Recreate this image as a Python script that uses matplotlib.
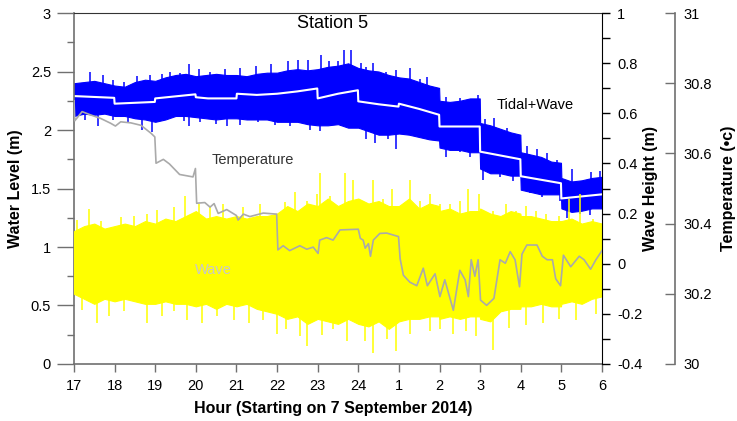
import matplotlib
matplotlib.use("Agg")
import numpy as np
import matplotlib.pyplot as plt
from matplotlib.ticker import MultipleLocator, FormatStrFormatter

plt.rcParams['font.family'] = ['Liberation Sans', 'DejaVu Sans']

# sample grid (hours, 25 = 1 am next day); extra points just before the hourly steps
band_hours = [17.0, 17.25, 17.5, 17.75, 18.0, 18.25, 18.5, 18.75, 19.0, 19.25, 19.5, 19.75,
              20.0, 20.25, 20.5, 20.75, 21.0, 21.25, 21.5, 21.75, 22.0, 22.25, 22.5, 22.75,
              23.0, 23.25, 23.5, 23.75, 24.0, 24.25, 24.5, 24.75, 25.0, 25.25, 25.5, 25.75,
              25.99, 26.0, 26.25, 26.5, 26.75, 26.99, 27.0, 27.25, 27.5, 27.75, 27.99, 28.0,
              28.25, 28.5, 28.75, 28.99, 29.0, 29.25, 29.5, 29.75, 30.0]

# Tidal+Wave envelope (water level, m)
blue_hi = [2.40, 2.41, 2.42, 2.40, 2.38, 2.37, 2.41, 2.43, 2.42, 2.45, 2.47, 2.48,
           2.46, 2.47, 2.48, 2.47, 2.47, 2.46, 2.48, 2.49, 2.49, 2.51, 2.52, 2.51,
           2.52, 2.54, 2.55, 2.57, 2.53, 2.51, 2.50, 2.47, 2.45, 2.44, 2.41, 2.38,
           2.36, 2.25, 2.24, 2.25, 2.27, 2.27, 2.06, 2.04, 2.01, 1.98, 1.96, 1.81,
           1.79, 1.77, 1.73, 1.72, 1.59, 1.56, 1.57, 1.59, 1.60]
blue_lo = [2.12, 2.14, 2.13, 2.14, 2.12, 2.12, 2.10, 2.09, 2.07, 2.09, 2.12, 2.12,
           2.11, 2.10, 2.09, 2.10, 2.10, 2.09, 2.09, 2.09, 2.07, 2.07, 2.07, 2.05,
           2.04, 2.04, 2.05, 2.02, 2.02, 1.99, 1.96, 1.96, 1.97, 1.96, 1.94, 1.92,
           1.91, 1.85, 1.83, 1.83, 1.81, 1.81, 1.67, 1.63, 1.63, 1.61, 1.61, 1.49,
           1.47, 1.45, 1.45, 1.45, 1.33, 1.30, 1.31, 1.33, 1.33]

# hourly mean of Tidal+Wave (white line)
mean_hours = [17.0, 17.99, 18.0, 18.99, 19.0, 19.99, 20.0, 20.3, 21.0, 21.01, 21.5, 22.0,
              22.5, 22.99, 23.0, 23.5, 23.99, 24.0, 24.5, 24.99, 25.0, 25.5, 25.99, 26.0,
              26.99, 27.0, 27.99, 28.0, 28.99, 29.0, 30.0]
mean_level = [2.29, 2.275, 2.225, 2.24, 2.27, 2.305, 2.28, 2.27, 2.27, 2.31, 2.30, 2.31,
              2.33, 2.355, 2.27, 2.31, 2.34, 2.245, 2.22, 2.20, 2.225, 2.18, 2.13, 2.03,
              2.03, 1.815, 1.75, 1.605, 1.545, 1.415, 1.45]

# Wave envelope (wave height, m)
wave_hi = [0.13, 0.15, 0.16, 0.14, 0.15, 0.16, 0.15, 0.17, 0.16, 0.18, 0.17, 0.19,
           0.21, 0.18, 0.19, 0.18, 0.19, 0.18, 0.19, 0.19, 0.20, 0.23, 0.21, 0.24,
           0.23, 0.26, 0.23, 0.25, 0.26, 0.24, 0.25, 0.23, 0.23, 0.26, 0.22, 0.24,
           0.23, 0.21, 0.22, 0.20, 0.21, 0.21, 0.22, 0.20, 0.19, 0.21, 0.20, 0.19,
           0.19, 0.18, 0.17, 0.17, 0.17, 0.18, 0.16, 0.17, 0.16]
wave_lo = [-0.12, -0.14, -0.16, -0.14, -0.15, -0.14, -0.15, -0.16, -0.16, -0.15, -0.16, -0.16,
           -0.17, -0.16, -0.18, -0.16, -0.17, -0.16, -0.18, -0.19, -0.20, -0.22, -0.21, -0.24,
           -0.22, -0.23, -0.24, -0.22, -0.24, -0.25, -0.23, -0.26, -0.23, -0.22, -0.22, -0.21,
           -0.21, -0.22, -0.21, -0.22, -0.21, -0.21, -0.22, -0.23, -0.19, -0.18, -0.18, -0.17,
           -0.17, -0.16, -0.17, -0.17, -0.16, -0.15, -0.16, -0.14, -0.13]

# spikes sticking out of the envelopes
blue_top_hours = [17.39, 17.72, 17.97, 18.22, 18.55, 18.88, 19.17, 19.37, 19.62, 19.82, 20.07, 20.35,
                  20.72, 21.08, 21.49, 21.86, 22.27, 22.52, 22.76, 23.09, 23.29, 23.5, 23.66, 23.82,
                  24.07, 24.2, 24.37, 24.69, 24.94, 25.27, 25.52, 25.68, 25.97, 26.17, 26.5, 26.95,
                  27.12, 27.33, 27.66, 27.9, 28.15, 28.4, 28.65, 28.9, 29.27, 29.72, 29.95]
blue_top_vals = [2.50, 2.47, 2.43, 2.41, 2.46, 2.47, 2.48, 2.50, 2.49, 2.56, 2.52, 2.50,
                 2.52, 2.53, 2.55, 2.56, 2.59, 2.60, 2.60, 2.64, 2.59, 2.59, 2.68, 2.68,
                 2.57, 2.54, 2.57, 2.50, 2.51, 2.53, 2.44, 2.45, 2.36, 2.28, 2.27, 2.30,
                 2.09, 2.10, 2.02, 1.94, 1.86, 1.84, 1.80, 1.74, 1.67, 1.64, 1.65]
blue_bot_hours = [17.27, 17.6, 17.97, 18.34, 18.67, 18.92, 19.37, 19.7, 19.82, 20.1, 20.5, 20.76,
                  21.08, 21.53, 21.94, 22.31, 22.8, 23.05, 23.29, 23.58, 23.99, 24.2, 24.4, 24.73,
                  24.94, 25.14, 25.47, 25.68, 25.93, 26.17, 26.5, 26.74, 27.08, 27.49, 27.82, 28.23,
                  28.52, 28.97, 29.13, 29.45, 29.7]
blue_bot_vals = [2.085, 2.03, 2.085, 2.07, 2.00, 1.98, 2.11, 2.08, 2.03, 2.07, 2.05, 2.03,
                 2.04, 2.07, 2.04, 2.03, 2.00, 1.99, 2.06, 2.03, 2.02, 1.92, 1.89, 1.92,
                 1.84, 1.97, 1.94, 1.96, 1.93, 1.77, 1.81, 1.77, 1.57, 1.60, 1.56, 1.46,
                 1.43, 1.39, 1.25, 1.28, 1.27]
wave_top_hours = [17.08, 17.37, 17.66, 18.15, 18.48, 18.8, 19.05, 19.46, 19.74, 20.07, 20.35, 20.68,
                  21.17, 21.58, 22.2, 22.44, 22.73, 22.98, 23.06, 23.3, 23.67, 23.87, 24.12, 24.37,
                  24.62, 24.82, 25.27, 25.51, 25.76, 26.0, 26.25, 26.5, 26.7, 26.98, 27.31, 27.64,
                  27.89, 28.13, 28.38, 28.62, 28.95, 29.2, 29.45, 29.77]
wave_top_vals = [0.175, 0.22, 0.17, 0.185, 0.19, 0.20, 0.215, 0.225, 0.27, 0.24, 0.225, 0.24,
                 0.225, 0.24, 0.247, 0.287, 0.25, 0.28, 0.36, 0.27, 0.36, 0.333, 0.25, 0.333,
                 0.26, 0.30, 0.333, 0.25, 0.28, 0.24, 0.24, 0.25, 0.30, 0.28, 0.21, 0.24,
                 0.21, 0.23, 0.21, 0.20, 0.19, 0.26, 0.28, 0.18]
wave_bot_hours = [17.2, 17.57, 17.86, 18.23, 18.8, 19.17, 19.46, 19.78, 20.15, 20.52, 20.93, 21.3,
                  21.66, 21.99, 22.23, 22.56, 22.73, 23.1, 23.38, 23.71, 24.16, 24.37, 24.7, 24.94,
                  25.27, 25.76, 26.0, 26.34, 26.66, 26.91, 27.31, 27.72, 28.13, 28.54, 28.95, 29.36,
                  29.85]
wave_bot_vals = [-0.185, -0.237, -0.21, -0.19, -0.237, -0.21, -0.19, -0.225, -0.237, -0.21, -0.225, -0.237,
                 -0.225, -0.28, -0.26, -0.29, -0.33, -0.285, -0.26, -0.31, -0.31, -0.358, -0.30, -0.35,
                 -0.28, -0.27, -0.26, -0.28, -0.27, -0.29, -0.345, -0.255, -0.245, -0.235, -0.22, -0.225,
                 -0.20]

# water temperature (deg C)
temp_hours = [17.0, 17.02, 17.2, 17.4, 17.65, 17.9, 18.02, 18.15, 18.4, 18.65, 18.9, 18.99,
              19.02, 19.2, 19.35, 19.6, 19.93, 19.99, 20.02, 20.22, 20.35, 20.45, 20.55, 20.76,
              21.0, 21.04, 21.17, 21.33, 21.66, 21.99, 22.02, 22.15, 22.31, 22.56, 22.73, 22.89,
              23.01, 23.05, 23.22, 23.38, 23.55, 24.0, 24.05, 24.12, 24.17, 24.25, 24.3, 24.37,
              24.53, 24.7, 24.99, 25.03, 25.11, 25.27, 25.44, 25.6, 25.7, 25.89, 26.01, 26.13,
              26.34, 26.5, 26.63, 26.71, 26.78, 26.87, 26.95, 27.01, 27.16, 27.34, 27.49, 27.62,
              27.74, 27.86, 27.97, 28.03, 28.15, 28.4, 28.53, 28.65, 28.78, 28.86, 28.98, 29.05,
              29.23, 29.44, 29.56, 29.72, 29.85, 30.0]
temp_vals = [30.750, 30.693, 30.719, 30.710, 30.700, 30.686, 30.678, 30.690, 30.687, 30.680, 30.657, 30.647,
             30.572, 30.583, 30.570, 30.540, 30.533, 30.557, 30.458, 30.460, 30.447, 30.457, 30.429, 30.440,
             30.423, 30.410, 30.427, 30.420, 30.430, 30.427, 30.325, 30.337, 30.323, 30.337, 30.327, 30.333,
             30.315, 30.353, 30.360, 30.353, 30.382, 30.384, 30.358, 30.353, 30.330, 30.343, 30.307, 30.353,
             30.372, 30.373, 30.363, 30.300, 30.253, 30.233, 30.223, 30.273, 30.223, 30.257, 30.192, 30.240,
             30.153, 30.267, 30.240, 30.192, 30.297, 30.250, 30.297, 30.182, 30.167, 30.187, 30.297, 30.287,
             30.320, 30.297, 30.220, 30.313, 30.339, 30.339, 30.307, 30.297, 30.297, 30.243, 30.223, 30.310,
             30.277, 30.307, 30.297, 30.270, 30.297, 30.323]

hour_ticks = list(range(17, 31))
hour_labels = ['17', '18', '19', '20', '21', '22', '23', '24', '1', '2', '3', '4', '5', '6']

BLUE = '#0000ff'
YELLOW = '#ffff00'
GREY = '#aaaaaa'
SPINE = '#707070'

fig = plt.figure(figsize=(7.37, 4.21), dpi=100)
ax = fig.add_axes([0.1004, 0.1354, 0.7164, 0.8337])
ax_w = ax.twinx()
ax_t = ax.twinx()
ax_t.spines['right'].set_position(('axes', 1.138))

# tidal + wave
ax.fill_between(band_hours, blue_lo, blue_hi, color=BLUE, lw=0.8)
blue_mid = [(lo + hi) / 2 for lo, hi in zip(blue_lo, blue_hi)]
ax.vlines(blue_top_hours, np.interp(blue_top_hours, band_hours, blue_mid), blue_top_vals, color=BLUE, lw=1.1)
ax.vlines(blue_bot_hours, np.interp(blue_bot_hours, band_hours, blue_mid), blue_bot_vals, color=BLUE, lw=1.1)
ax.plot(mean_hours, mean_level, color='white', lw=1.5)

# wave
ax_w.fill_between(band_hours, wave_lo, wave_hi, color=YELLOW, lw=0.8)
ax_w.vlines(wave_top_hours, 0, wave_top_vals, color=YELLOW, lw=1.1)
ax_w.vlines(wave_bot_hours, 0, wave_bot_vals, color=YELLOW, lw=1.1)

# temperature
ax_t.plot(temp_hours, temp_vals, color=GREY, lw=1.2)

ax.set_xlim(17, 30)
ax.set_ylim(0, 3)
ax_w.set_ylim(-0.4, 1)
ax_t.set_ylim(30, 31)

ax.set_xticks(hour_ticks)
ax.set_xticklabels(hour_labels)
ax.yaxis.set_major_locator(MultipleLocator(0.5))
ax.yaxis.set_minor_locator(MultipleLocator(0.25))
ax.yaxis.set_major_formatter(FormatStrFormatter('%g'))
ax_w.yaxis.set_major_locator(MultipleLocator(0.2))
ax_w.yaxis.set_minor_locator(MultipleLocator(0.1))
ax_w.yaxis.set_major_formatter(FormatStrFormatter('%g'))
ax_t.yaxis.set_major_locator(MultipleLocator(0.2))
ax_t.yaxis.set_major_formatter(FormatStrFormatter('%g'))

ax.tick_params(axis='y', which='major', direction='out', length=12.5, width=1, color=SPINE, labelsize=10.5, pad=4)
ax.tick_params(axis='y', which='minor', direction='out', length=5, width=1, color=SPINE)
ax.tick_params(axis='x', direction='out', length=6, width=1, color=SPINE, labelsize=10.5, pad=5)
ax_w.tick_params(axis='y', which='both', direction='out', length=6, width=1, color='black', labelsize=10.5, pad=5)
ax_t.tick_params(axis='y', direction='in', length=7, width=1, color=SPINE, labelsize=10.5, pad=6)

for name in ['left', 'bottom']:
    ax.spines[name].set_color(SPINE)
    ax.spines[name].set_linewidth(1.2)
ax.spines['top'].set_color('#333333')
ax.spines['right'].set_visible(False)
for name in ['left', 'top', 'bottom']:
    ax_w.spines[name].set_visible(False)
    ax_t.spines[name].set_visible(False)
ax_w.spines['right'].set_color('black')
ax_t.spines['right'].set_color(SPINE)
ax_t.spines['right'].set_linewidth(1.2)

ax.set_ylabel('Water Level (m)', fontsize=11.5, fontweight='bold')
ax.yaxis.set_label_coords(-0.097, 0.5)
ax_w.set_ylabel('Wave Height (m)', fontsize=11.5, fontweight='bold')
ax_w.yaxis.set_label_coords(1.078, 0.5)
ax_t.set_ylabel('Temperature (\u2022c)', fontsize=11.5, fontweight='bold')
ax_t.yaxis.set_label_coords(1.225, 0.5)
ax.set_xlabel('Hour (Starting on 7 September 2014)', fontsize=11.5, fontweight='bold')
ax.xaxis.set_label_coords(0.49, -0.105)

ax_t.text(0.49, 0.995, 'Station 5', transform=ax_t.transAxes, ha='center', va='top', fontsize=13)
ax_t.text(0.801, 0.738, 'Tidal+Wave', transform=ax_t.transAxes, ha='left', va='center', fontsize=10.5)
ax_t.text(0.261, 0.581, 'Temperature', transform=ax_t.transAxes, ha='left', va='center', fontsize=10.5, color='#333333')
ax_t.text(0.229, 0.268, 'Wave', transform=ax_t.transAxes, ha='left', va='center', fontsize=10.5, color='#c8c8c8')

fig.savefig('out.png', dpi=100)
